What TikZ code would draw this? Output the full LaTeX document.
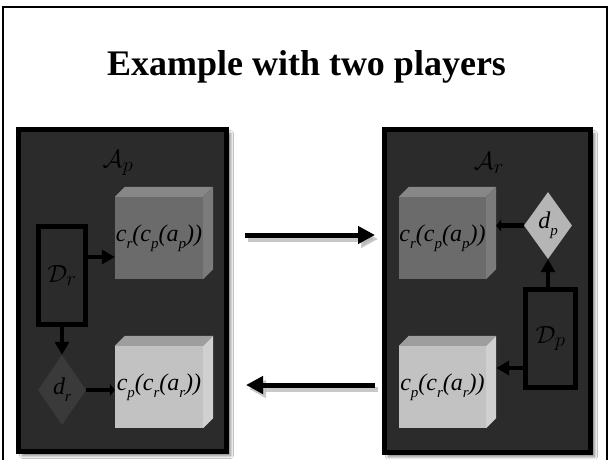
\documentclass[tikz,border=0pt]{standalone}
\usepackage{fontspec}
\setmainfont{Liberation Serif}
\usetikzlibrary{arrows.meta,shapes.geometric,shadows.blur,calc}
\definecolor{panelfill}{HTML}{2B2B2B}
\definecolor{cubeAfront}{HTML}{6B6B6B}
\definecolor{cubeAtop}{HTML}{878787}
\definecolor{cubeAside}{HTML}{7B7B7B}
\definecolor{cubeBfront}{HTML}{C2C2C2}
\definecolor{cubeBtop}{HTML}{9E9E9E}
\definecolor{cubeBside}{HTML}{D0D0D0}
\definecolor{dlight}{HTML}{B5B5B5}
\definecolor{ddark}{HTML}{3A3A3A}
\newcommand\vsub[2]{\textit{#1}\raisebox{-0.3em}{\fontsize{15}{15}\selectfont\itshape #2}}
\tikzset{
  panel/.style={draw=black, line width=5pt, fill=panelfill, inner sep=0pt,
    blur shadow={shadow xshift=4pt, shadow yshift=-4pt, shadow blur radius=3pt, shadow blur steps=6, shadow opacity=55}},
  cubefront/.style={inner sep=0pt, minimum width=88pt, minimum height=82pt, font=\fontsize{24}{28}\selectfont\itshape},
  dbox/.style={draw=black, line width=5pt, fill=panelfill, inner sep=0pt, minimum width=47pt, minimum height=98pt, font=\fontsize{24.88}{28}\selectfont},
  dnode/.style={diamond, inner sep=0pt, minimum width=48pt, minimum height=68pt, font=\fontsize{24}{28}\selectfont\itshape},
  mlabel/.style={font=\fontsize{24.88}{28}\selectfont, inner sep=0pt},
  inarrow/.style={draw=black, line width=4.5pt, -{Triangle[length=13pt,width=14pt]}},
  flatarrow/.style={draw=black, line width=4.5pt, -{Triangle[length=5pt,width=12pt]}},
  bigarrow/.style={line width=5pt, -{Triangle[length=17pt,width=17pt]}},
}
\newcommand\cubefaces[3]{%
  \fill[#2] (#1.north west) -- ++(10,-10) -- ([shift={(10,-10)}]#1.north east) -- (#1.north east) -- cycle;
  \fill[#3] (#1.north east) -- ++(10,-10) -- ([shift={(10,-10)}]#1.south east) -- (#1.south east) -- cycle;
}
\begin{document}
\begin{tikzpicture}[x=1pt,y=-1pt]
\useasboundingbox (0,0) rectangle (610,459);
\fill[white] (0,0) rectangle (610,459);
% frame
\draw[line width=1.5pt] (3,470) -- (3,7) -- (607,7) -- (607,470);
% title
\node[anchor=base, font=\bfseries\fontsize{36}{40}\selectfont, inner sep=0pt] (title) at (306.5,75) {Example with two players};
% panels
\node[panel, minimum width=208pt, minimum height=322pt] (lp) at (122.5,290.5) {};
\node[panel, minimum width=206pt, minimum height=323pt] (rp) at (487.5,291) {};
% panel labels
\node[mlabel] (Ap) at (118,163) {$\mathcal{A}_p$};
\node[mlabel] (Ar) at (489,163) {$\mathcal{A}_r$};
% cubes left
\node[cubefront, fill=cubeAfront] (lc1) at (159,238) {};
\cubefaces{lc1}{cubeAtop}{cubeAside}
\node[cubefront] (lc1t) at (lc1) {\vsub{c}{r}(\vsub{c}{p}(\vsub{a}{p}))};
\node[cubefront, fill=cubeBfront] (lc2) at (159,387) {};
\cubefaces{lc2}{cubeBtop}{cubeBside}
\node[cubefront] (lc2t) at (lc2) {\vsub{c}{p}(\vsub{c}{r}(\vsub{a}{r}))};
% cubes right
\node[cubefront, minimum width=87pt, fill=cubeAfront] (rc1) at (442.5,238) {};
\cubefaces{rc1}{cubeAtop}{cubeAside}
\node[cubefront] (rc1t) at (rc1) {\vsub{c}{r}(\vsub{c}{p}(\vsub{a}{p}))};
\node[cubefront, minimum width=87pt, fill=cubeBfront] (rc2) at (442.5,387) {};
\cubefaces{rc2}{cubeBtop}{cubeBside}
\node[cubefront] (rc2t) at (rc2) {\vsub{c}{p}(\vsub{c}{r}(\vsub{a}{r}))};
% decision boxes
\node[dbox] (Dr) at (62,275.5) {$\mathcal{D}_r$};
\node[dbox, minimum width=50pt] (Dp) at (550.5,338.5) {$\mathcal{D}_p$};
% diamonds
\node[dnode, fill=ddark, minimum height=70pt] (dr) at (62,390) {\vsub{d}{r}};
\node[dnode, fill=dlight, minimum height=67pt] (dp) at (548,225.5) {\vsub{d}{p}};
% inner arrows left
\coordinate (lc1in) at ($(lc1.west)+(0,19)$);
\draw[inarrow] (Dr.east |- lc1in) -- (lc1in);
\draw[inarrow] (Dr.south) -- (dr.north);
\draw[flatarrow] (dr.east) -- (dr.east -| lc2.west);
% inner arrows right
\draw[flatarrow] (dp.west) -- ($(dp.west -| rc1.east)+(10,0)$);
\draw[inarrow] (dp.south |- Dp.north) -- (dp.south);
\coordinate (Dpout) at ($(Dp.south west)+(0,-22)$);
\draw[inarrow] (Dpout) -- ($(Dpout -| rc2.east)+(10,0)$);
% big arrows between panels
\coordinate (u1) at (245,235);
\coordinate (u2) at (375,235);
\coordinate (l1) at (375,385);
\coordinate (l2) at (246,385);
\draw[bigarrow, black!30, opacity=0.7] ([shift={(3,4)}]u1) -- ([shift={(3,4)}]u2);
\draw[bigarrow, black!30, opacity=0.7] ([shift={(3,4)}]l1) -- ([shift={(3,4)}]l2);
\draw[bigarrow, black] (u1) -- (u2);
\draw[bigarrow, black] (l1) -- (l2);
\end{tikzpicture}
\end{document}
